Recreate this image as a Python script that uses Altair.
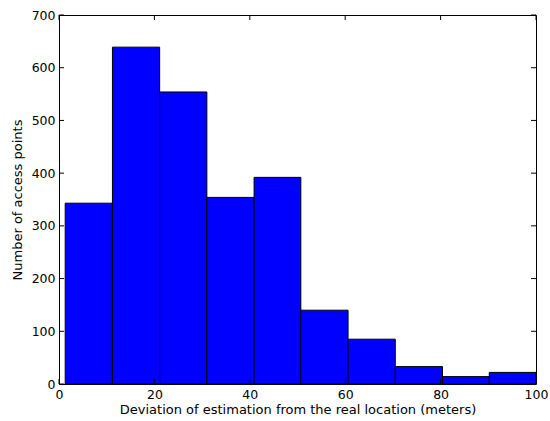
import altair as alt
import pandas as pd

bin_edges = [1.3, 11.2, 21.1, 31.0, 40.9, 50.7, 60.6, 70.5, 80.4, 90.2, 100.0]
counts = [343, 639, 554, 354, 392, 140, 85, 33, 14, 22]
x_ticks = [0, 20, 40, 60, 80, 100]
y_ticks = [0, 100, 200, 300, 400, 500, 600, 700]

W, H = 477, 369
TL = 5
FONT = "DejaVu Sans"

bars_df = pd.DataFrame({
    "left": bin_edges[:-1],
    "right": bin_edges[1:],
    "count": counts,
})
xt = pd.DataFrame({"v": x_ticks})
yt = pd.DataFrame({"v": y_ticks})

xscale = alt.Scale(domain=[0, 100], nice=False, zero=False)
yscale = alt.Scale(domain=[0, 700], nice=False)

bars = alt.Chart(bars_df).mark_rect(
    color="#0000ff", stroke="black", strokeWidth=1
).encode(
    x=alt.X("left:Q", scale=xscale,
            axis=alt.Axis(values=x_ticks, title="Deviation of estimation from the real location (meters)",
                          grid=False, ticks=False, domain=False, labelPadding=4,
                          labelFontSize=12.5, titleFontSize=13, titleFontWeight="normal",
                          labelColor="black", titleColor="black", labelFont=FONT, titleFont=FONT,
                          titlePadding=3, labelFlush=False)),
    x2="right:Q",
    y=alt.Y("count:Q", scale=yscale,
            axis=alt.Axis(values=y_ticks, title="Number of access points",
                          grid=False, ticks=False, domain=False, labelPadding=4,
                          labelFontSize=12.5, titleFontSize=13, titleFontWeight="normal",
                          labelColor="black", titleColor="black", labelFont=FONT, titleFont=FONT,
                          titlePadding=7, labelFlush=False)),
    y2=alt.datum(0),
)

x_bottom = alt.Chart(xt).mark_rule(color="black", strokeWidth=1).encode(
    x=alt.X("v:Q", scale=xscale), y=alt.value(H), y2=alt.value(H - TL))
x_top = alt.Chart(xt).mark_rule(color="black", strokeWidth=1).encode(
    x=alt.X("v:Q", scale=xscale), y=alt.value(0), y2=alt.value(TL))
y_left = alt.Chart(yt).mark_rule(color="black", strokeWidth=1).encode(
    y=alt.Y("v:Q", scale=yscale), x=alt.value(0), x2=alt.value(TL))
y_right = alt.Chart(yt).mark_rule(color="black", strokeWidth=1).encode(
    y=alt.Y("v:Q", scale=yscale), x=alt.value(W - TL), x2=alt.value(W))

chart = alt.layer(bars, x_bottom, x_top, y_left, y_right).properties(
    width=W, height=H,
    autosize=alt.AutoSizeParams(type="none"),
    padding={"left": 59, "top": 15, "right": 14, "bottom": 37},
    background="white",
).configure_view(stroke="black", strokeWidth=1)

chart.save("out.html", embed_options={"renderer": "svg", "actions": False})
